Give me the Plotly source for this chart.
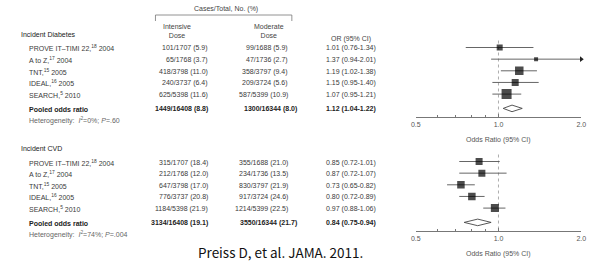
import math
import plotly.graph_objects as go

# ---------------- data ----------------
studies = ["PROVE IT–TIMI 22,<sup>18</sup> 2004", "A to Z,<sup>17</sup> 2004",
           "TNT,<sup>15</sup> 2005", "IDEAL,<sup>16</sup> 2005", "SEARCH,<sup>5</sup> 2010"]

diab_int_cases = [101, 65, 418, 240, 625]
diab_int_total = [1707, 1768, 3798, 3737, 5398]
diab_int_pct = [5.9, 3.7, 11.0, 6.4, 11.6]
diab_mod_cases = [99, 47, 358, 209, 587]
diab_mod_total = [1688, 1736, 3797, 3724, 5399]
diab_mod_pct = [5.9, 2.7, 9.4, 5.6, 10.9]
diab_or = [1.01, 1.37, 1.19, 1.15, 1.07]
diab_lo = [0.76, 0.94, 1.02, 0.95, 0.95]
diab_hi = [1.34, 2.01, 1.38, 1.40, 1.21]
diab_pooled = dict(int_c=1449, int_t=16408, int_p=8.8, mod_c=1300, mod_t=16344, mod_p=8.0,
                   orv=1.12, lo=1.04, hi=1.22, het="<i>I</i><sup>2</sup>=0%; <i>P</i>=.60")

cvd_int_cases = [315, 212, 647, 776, 1184]
cvd_int_total = [1707, 1768, 3798, 3737, 5398]
cvd_int_pct = [18.4, 12.0, 17.0, 20.8, 21.9]
cvd_mod_cases = [355, 234, 830, 917, 1214]
cvd_mod_total = [1688, 1736, 3797, 3724, 5399]
cvd_mod_pct = [21.0, 13.5, 21.9, 24.6, 22.5]
cvd_or = [0.85, 0.87, 0.73, 0.80, 0.97]
cvd_lo = [0.72, 0.72, 0.65, 0.72, 0.88]
cvd_hi = [1.01, 1.07, 0.82, 0.89, 1.06]
cvd_pooled = dict(int_c=3134, int_t=16408, int_p=19.1, mod_c=3550, mod_t=16344, mod_p=21.7,
                  orv=0.84, lo=0.75, hi=0.94, het="<i>I</i><sup>2</sup>=74%; <i>P</i>=.004")

axis_min, axis_max = 0.5, 2.0
tick_vals = [0.5, 1.0, 2.0]
tick_text = ["0.5", "1.0", "2.0"]
minor_vals = [0.6, 0.7, 0.8, 0.9]

# ---------------- styles / geometry (pixels from top-left) ----------------
W, H = 601, 262
FONT = "Liberation Sans"
FS = 7
diab_sizes = [6, 4, 8.5, 7, 10]
cvd_sizes = [7, 7, 7.5, 7.5, 8]
X0_PX, X1_PX = 417.7, 586.0
ROW = 11.65
POOL_GAP = 14.3
AXIS_GAP = 9.0
TOP_Y0, BOT_Y0 = 47.5, 161.5

n = len(studies)


def axis_px(y0):
    return y0 + (n - 1) * ROW + POOL_GAP + AXIS_GAP


TOP_AX = axis_px(TOP_Y0)
BOT_AX = axis_px(BOT_Y0)

fig = go.Figure()
annotations = []
shapes = []


def py(ypx):
    return 1 - ypx / H


def ann(x, y, text, anchor="left", size=FS, color="#3a3a3a", family=FONT, yanchor="middle"):
    annotations.append(dict(x=x / W, y=py(y), xref="paper", yref="paper", text=text, showarrow=False,
                            xanchor=anchor, yanchor=yanchor, borderpad=0, borderwidth=0,
                            font=dict(family=family, size=size, color=color)))


def panel(title, y0, int_c, int_t, int_p, mod_c, mod_t, mod_p, orv, lo, hi, pooled, sizes, xa, ya):
    ys = [y0 + i * ROW for i in range(n)]
    ypool = ys[-1] + POOL_GAP
    yhet = ypool + 12.5
    yax = ypool + AXIS_GAP
    ann(16.7, y0 - 12.8, title, color="#222")
    for i, s in enumerate(studies):
        yt = ys[i] + 1.0
        ann(24, yt, s)
        ann(206.5, yt, f"{int_c[i]}/{int_t[i]} ({int_p[i]:.1f})", anchor="right")
        ann(287.5, yt, f"{mod_c[i]}/{mod_t[i]} ({mod_p[i]:.1f})", anchor="right")
        ann(326.5, yt, f"{orv[i]:.2f} ({lo[i]:.2f}-{hi[i]:.2f})")
    ann(24, ypool + 1, "<b>Pooled odds ratio</b>", color="#222")
    ann(206.5, ypool + 1, f"<b>{pooled['int_c']}/{pooled['int_t']} ({pooled['int_p']:.1f})</b>",
        anchor="right", color="#222")
    ann(296.5, ypool + 1, f"<b>{pooled['mod_c']}/{pooled['mod_t']} ({pooled['mod_p']:.1f})</b>",
        anchor="right", color="#222")
    ann(326.5, ypool + 1, f"<b>{pooled['orv']:.2f} ({pooled['lo']:.2f}-{pooled['hi']:.2f})</b>",
        color="#222")
    ann(24, yhet, "Heterogeneity:  " + pooled["het"], color="#666")

    # reference line at OR = 1
    fig.add_trace(go.Scatter(x=[1.0, 1.0], y=[y0 - 7, yax], mode="lines", xaxis=xa, yaxis=ya,
                             line=dict(color="#999", width=0.8, dash="dot"), hoverinfo="skip"))
    # CI lines
    for i in range(n):
        h = min(hi[i], axis_max)
        fig.add_trace(go.Scatter(x=[lo[i], h], y=[ys[i], ys[i]], mode="lines", xaxis=xa, yaxis=ya,
                                 line=dict(color="#555", width=0.9), hoverinfo="skip"))
        if hi[i] > axis_max:
            fig.add_trace(go.Scatter(x=[axis_max], y=[ys[i]], mode="markers", xaxis=xa, yaxis=ya,
                                     marker=dict(symbol="triangle-right", size=5, color="#222"),
                                     cliponaxis=False, hoverinfo="skip"))
    fig.add_trace(go.Scatter(x=orv, y=ys, mode="markers", xaxis=xa, yaxis=ya,
                             marker=dict(symbol="square", size=sizes, color="#000",
                                         line=dict(width=0)), hoverinfo="skip"))
    # pooled diamond
    fig.add_trace(go.Scatter(x=[pooled["lo"], pooled["orv"], pooled["hi"], pooled["orv"], pooled["lo"]],
                             y=[ypool, ypool - 3.3, ypool, ypool + 3.3, ypool],
                             mode="lines", fill="toself", fillcolor="white", xaxis=xa, yaxis=ya,
                             line=dict(color="#444", width=0.9), hoverinfo="skip"))
    ann((X0_PX + X1_PX) / 2, yax + 22.5, "Odds Ratio (95% CI)", anchor="center", color="#555")


panel("Incident Diabetes", TOP_Y0, diab_int_cases, diab_int_total, diab_int_pct,
      diab_mod_cases, diab_mod_total, diab_mod_pct, diab_or, diab_lo, diab_hi,
      diab_pooled, diab_sizes, "x", "y")
panel("Incident CVD", BOT_Y0, cvd_int_cases, cvd_int_total, cvd_int_pct,
      cvd_mod_cases, cvd_mod_total, cvd_mod_pct, cvd_or, cvd_lo, cvd_hi,
      cvd_pooled, cvd_sizes, "x2", "y2")

# column headers
ann(225, 8.5, "Cases/Total, No. (%)", anchor="center", color="#444")
ann(175, 30.8, "Intensive<br>Dose", anchor="center", color="#444")
ann(268, 30.8, "Moderate<br>Dose", anchor="center", color="#444")
ann(351.7, 39.5, "OR (95% CI)", anchor="center", color="#444")
shapes.append(dict(type="path", xref="paper", yref="paper",
                   path=f"M {153/W},{py(21)} L {153/W},{py(15)} L {291.7/W},{py(15)} L {291.7/W},{py(21)}",
                   line=dict(color="#777", width=0.8)))

# citation
ann(280.5, 261.5, "Preiss D, et al. JAMA. 2011.", anchor="center", size=13.5,
    color="#111", family="Noto Sans CJK KR", yanchor="bottom")


def xaxis_cfg(anchor):
    return dict(type="log", range=[math.log10(axis_min), math.log10(axis_max)],
                domain=[X0_PX / W, X1_PX / W], anchor=anchor,
                showgrid=False, zeroline=False, showline=True, linecolor="#777", linewidth=0.8,
                ticks="inside", ticklen=4, tickwidth=0.8, tickcolor="#777",
                tickmode="array", tickvals=tick_vals, ticktext=tick_text,
                minor=dict(tickmode="array", tickvals=minor_vals, ticks="inside", ticklen=3,
                           tickwidth=0.8, tickcolor="#777", showgrid=False),
                tickfont=dict(family=FONT, size=FS, color="#555"), fixedrange=True)


fig.update_layout(
    width=W, height=H, margin=dict(l=0, r=0, t=0, b=0),
    paper_bgcolor="white", plot_bgcolor="white", showlegend=False,
    xaxis=xaxis_cfg("y"), xaxis2=xaxis_cfg("y2"),
    yaxis=dict(domain=[py(TOP_AX), 1], range=[TOP_AX, 0], visible=False, fixedrange=True),
    yaxis2=dict(domain=[py(BOT_AX), py(TOP_AX)], range=[BOT_AX, TOP_AX], visible=False,
                fixedrange=True),
    annotations=annotations, shapes=shapes,
)

fig.write_html("out.html", post_script="document.body.style.margin='0px';",
               config={"displayModeBar": False})
